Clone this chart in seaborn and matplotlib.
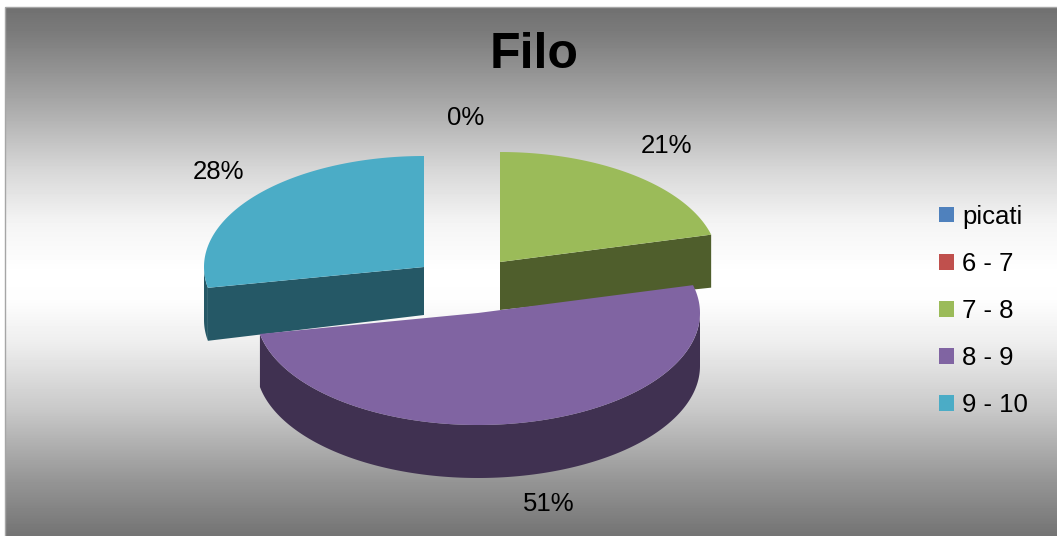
import numpy as np
import matplotlib
matplotlib.use('Agg')
import matplotlib.pyplot as plt
from matplotlib.patches import Patch, Rectangle
import seaborn as sns

# Data
categories = ['picati', '6 - 7', '7 - 8', '8 - 9', '9 - 10']
values = [0, 0, 21, 51, 28]
pct_labels = ['0%', '21%', '51%', '28%']

top_colors = ['#4F81BD', '#C0504D', '#9BBB59', '#8064A2', '#4BACC6']
side_colors = ['#27405E', '#602826', '#4F5E2C', '#403151', '#255866']

sns.set_style('white')
plt.rcParams['font.family'] = ['Liberation Sans', 'DejaVu Sans']
palette = sns.color_palette(top_colors)

W, H = 1057, 536
fig = plt.figure(figsize=(W / 100, H / 100), dpi=100)
ax = fig.add_axes([0, 0, 1, 1])
ax.axis('off')

# Background gradient of the chart area
panel_left, panel_top = 5, 7
rows = np.arange(panel_top, H)
gray = np.interp(rows, [7, 34, 103, 171, 222, 273, 300, 342, 410, 479, 536],
                 [112, 124, 168, 216, 244, 255, 253, 238, 200, 150, 115])
ax.imshow(gray[:, None], cmap='gray', vmin=0, vmax=255, aspect='auto',
          extent=[panel_left, W, H, panel_top], zorder=0)
ax.add_patch(Rectangle((panel_left, panel_top), W, H, fill=False,
                       edgecolor='#A6A6A6', linewidth=1, zorder=1))
ax.set_xlim(0, W)
ax.set_ylim(H, 0)

# Each slice has its own centre because the pie is exploded
radius_x = {2: 218, 3: 222, 4: 220}
radius_y = {2: 110, 3: 112, 4: 111}
centers = {2: (500, 262), 3: (478, 313), 4: (424, 267)}
rim_depth = 53
apex_depth = 48
draw_order = [4, 2, 3]

shares = np.array(values) / sum(values)
starts = np.concatenate([[0], np.cumsum(shares)[:-1]]) * 2 * np.pi
ends = np.cumsum(shares) * 2 * np.pi

for z, i in enumerate(draw_order):
    c = centers[i]
    # angle t runs clockwise from 12 o'clock
    t = np.linspace(starts[i], ends[i], 200)
    xs = c[0] + radius_x[i] * np.sin(t)
    ys = c[1] - radius_y[i] * np.cos(t)

    # radial side wall, only visible on the green and blue slices
    if i == 2:
        ax.fill([c[0], xs[-1], xs[-1], c[0]],
                [c[1], ys[-1], ys[-1] + rim_depth, c[1] + apex_depth],
                color=side_colors[i], lw=0, zorder=2 + z)
    if i == 4:
        ax.fill([c[0], xs[0], xs[0], c[0]],
                [c[1], ys[0], ys[0] + rim_depth, c[1] + apex_depth],
                color=side_colors[i], lw=0, zorder=2 + z)

    # outer wall, only the part facing the viewer
    front = np.cos(t) <= 0
    if front.any():
        ax.fill(np.r_[xs[front], xs[front][::-1]],
                np.r_[ys[front], ys[front][::-1] + rim_depth],
                color=side_colors[i], lw=0, zorder=2 + z)

    # top face
    ax.fill(np.r_[c[0], xs], np.r_[c[1], ys], color=palette[i], lw=0, zorder=2 + z)

ax.text(534, 55, 'Filo', fontsize=36, fontweight='bold', ha='center', va='center', color='black', zorder=10)

# Percent labels
label_pos = [(466, 118), (667, 146), (549, 504), (219, 172)]
for txt, (x, y) in zip(pct_labels, label_pos):
    ax.text(x, y, txt, fontsize=18.5, ha='center', va='center', color='black', zorder=10)

handles = [Patch(facecolor=col, edgecolor='none') for col in palette]
ax.legend(handles, categories, loc='center left', bbox_to_anchor=(939 / W, 1 - 311 / H),
          frameon=False, fontsize=18.5, labelcolor='black', handlelength=0.58, handleheight=0.55,
          handletextpad=0.33, labelspacing=0.9, borderpad=0, borderaxespad=0)

fig.savefig('out.png', dpi=100)
